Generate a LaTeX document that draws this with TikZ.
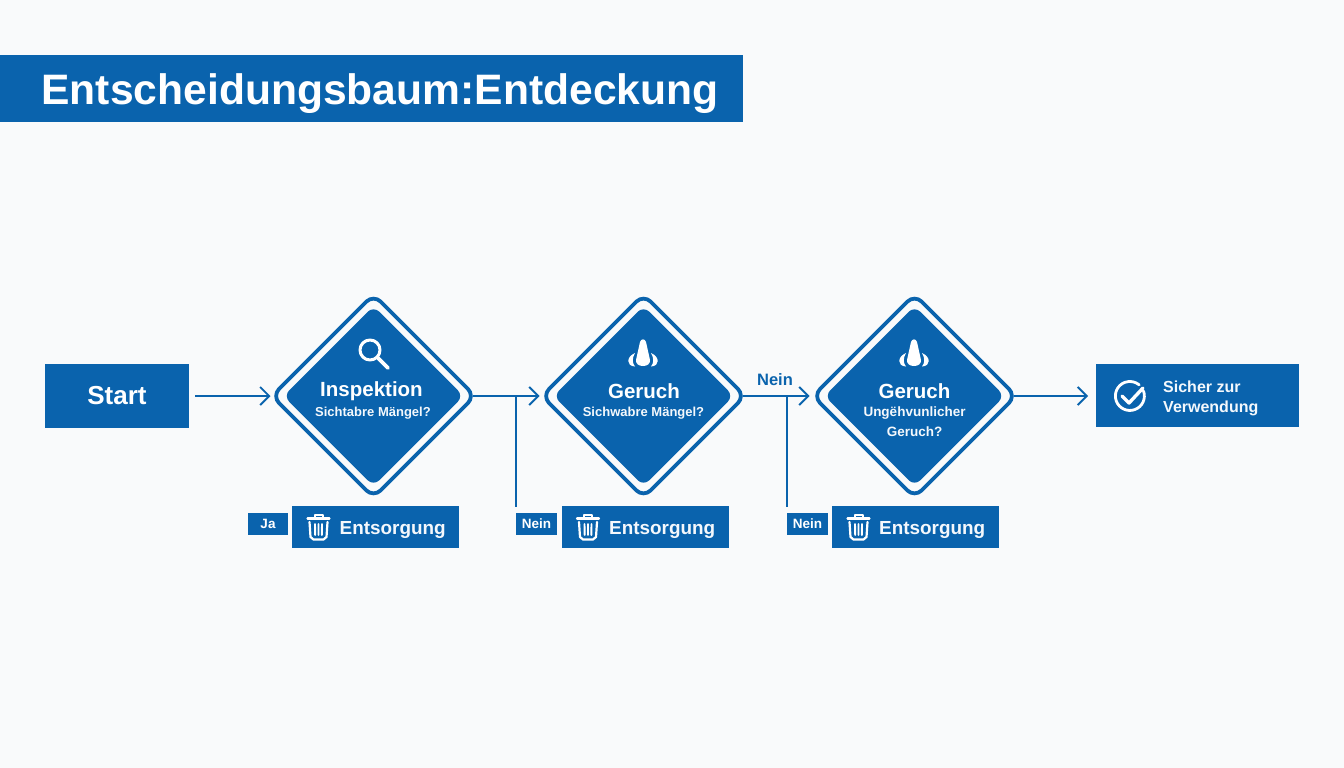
\documentclass[tikz,border=0pt]{standalone}
\usepackage{fontspec}
\setmainfont{Liberation Sans}
\usetikzlibrary{shapes.geometric,arrows.meta}
\definecolor{brand}{HTML}{0A63AD}
\definecolor{paper}{HTML}{F9FAFB}
\definecolor{soft}{HTML}{F4F8FC}
\newcommand{\fs}[1]{\fontsize{#1}{#1}\selectfont}
\tikzset{
  x=1pt,y=-1pt,
  box/.style={fill=brand,text=white,inner sep=0pt,outer sep=0pt,anchor=north west,font=\bfseries},
  tag/.style={box,minimum height=22pt,font=\bfseries\fs{13.5}},
  outerdia/.style={diamond,aspect=1,draw=brand,fill=paper,line width=3.8pt,rounded corners=10pt,minimum width=203pt,minimum height=203pt,inner sep=0pt,outer sep=0pt},
  innerdia/.style={diamond,aspect=1,fill=brand,rounded corners=8pt,minimum width=180pt,minimum height=180pt,inner sep=0pt,outer sep=0pt},
  dtitle/.style={text=white,font=\bfseries\fs{20.5},inner sep=0pt},
  dsub/.style={text=soft,font=\bfseries\fs{13},inner sep=0pt,align=center},
  flow/.style={draw=brand,line width=1.9pt,-{Straight Barb[length=9pt,width=18pt,line width=1.9pt]}},
  branch/.style={draw=brand,line width=1.9pt},
  icon/.style={draw=white,line width=2.4pt,line cap=round,line join=round},
  nose/.pic={
    \fill[white] (-3,-11) .. controls (-2,-14.5) and (2,-14.5) .. (3,-11) -- (7,7) .. controls (8,15) and (-8,15) .. (-7,7) -- cycle;
    \fill[white] (-8,0) .. controls (-17,4) and (-17,13) .. (-8,13.5) .. controls (-11,10) and (-11,5) .. (-8,0) -- cycle;
    \fill[white] (8,0) .. controls (17,4) and (17,13) .. (8,13.5) .. controls (11,10) and (11,5) .. (8,0) -- cycle;
  },
  trash/.pic={
    \draw[icon,line width=2.2pt] (-11,-8.5) -- (11,-8.5);
    \draw[icon,line width=2pt] (-4,-9) -- (-4,-12.5) -- (4,-12.5) -- (4,-9);
    \draw[icon,line width=2.2pt] (-9,-5) -- (-8,10) -- (-5,12.5) -- (5,12.5) -- (8,10) -- (9,-5);
    \draw[icon,line width=1.9pt] (-3.5,-3) -- (-3.3,8) (0,-3) -- (0,8) (3.5,-3) -- (3.3,8);
  }
}
\begin{document}
\begin{tikzpicture}
\useasboundingbox[fill=paper] (0,0) rectangle (1344,768);

% title
\node[box,minimum width=743pt,minimum height=67pt] (title) at (0,55) {};
\node[text=white,font=\bfseries\fs{42.6},inner sep=0pt] (titletext) at (380,94) {Entscheidungsbaum:Entdeckung};

% start and end
\node[box,minimum width=144pt,minimum height=64pt,font=\bfseries\fs{26}] (start) at (45,364) {Start};
\node[box,minimum width=203pt,minimum height=63pt] (safe) at (1096,364) {};
\node[text=soft,font=\bfseries\fs{16},inner sep=0pt,align=left,anchor=west] (safetext) at (1163,398.5) {Sicher zur\\[4.5pt]Verwendung};
\draw[icon,line width=2.8pt] (1143.5,391) arc[start angle=-20,end angle=310,radius=14.5];
\draw[icon,line width=3.4pt] (1122,396) -- (1129,403) -- (1143,388);

% decisions
\foreach \n/\cx in {1/373.5,2/643.5,3/914.5}{
  \node[outerdia] (d\n) at (\cx,396) {};
  \node[innerdia] (i\n) at (\cx,396) {};
}
\node[dtitle] (t1) at (371.5,391) {Inspektion};
\node[dsub] (s1) at (373,413) {Sichtabre Mängel?};
\node[dtitle] (t2) at (644,391) {Geruch};
\node[dsub] (s2) at (643.5,413) {Sichwabre Mängel?};
\node[dtitle] (t3) at (914.5,391) {Geruch};
\node[dsub,font=\bfseries\fs{13.5}] (s3) at (914.5,413.5) {Ungëhvunlicher};
\node[dsub,font=\bfseries\fs{13.5}] (s3b) at (914.5,431.5) {Geruch?};

% icons in decisions
\draw[icon,line width=3pt] (370,350) circle[radius=10];
\draw[icon,line width=3.6pt] (378,358) -- (388,368);
\pic at (643,353) {nose};
\pic at (914,353) {nose};

% disposal boxes
\node[box,minimum width=167pt,minimum height=42pt] (e1) at (292,506) {};
\node[box,minimum width=167pt,minimum height=42pt] (e2) at (562,506) {};
\node[box,minimum width=167pt,minimum height=42pt] (e3) at (832,506) {};
\foreach \n/\tx in {1/339.5,2/609,3/879}{
  \node[text=soft,font=\bfseries\fs{18.9},inner sep=0pt,anchor=west] (et\n) at (\tx,529.5) {Entsorgung};
}
\pic at (318.5,527) {trash};
\pic at (588,527) {trash};
\pic at (858.5,527) {trash};

% tags
\node[tag,minimum width=40pt] (ja) at (248,513) {Ja};
\node[tag,minimum width=41pt] (n1) at (516,513) {Nein};
\node[tag,minimum width=41pt] (n2) at (787,513) {Nein};
\node[text=brand,font=\bfseries\fs{16.5},inner sep=0pt] (nein) at (775,380) {Nein};

% connectors
\coordinate (j1) at (516,396);
\coordinate (j2) at (787,396);
\draw[flow,shorten <=6pt,shorten >=1.5pt] (start.east |- d1.west) -- (d1.west);
\draw[flow,shorten <=-2pt,shorten >=2.5pt] (d1.east) -- (d2.west);
\draw[flow,shorten <=-2pt,shorten >=3.5pt] (d2.east) -- (d3.west);
\draw[flow,shorten <=-2pt,shorten >=8pt] (d3.east) -- (safe.west |- d3.east);
\draw[branch,shorten >=6pt] (j1) -- (n1.north west);
\draw[branch,shorten >=6pt] (j2) -- (n2.north west);
\end{tikzpicture}
\end{document}
